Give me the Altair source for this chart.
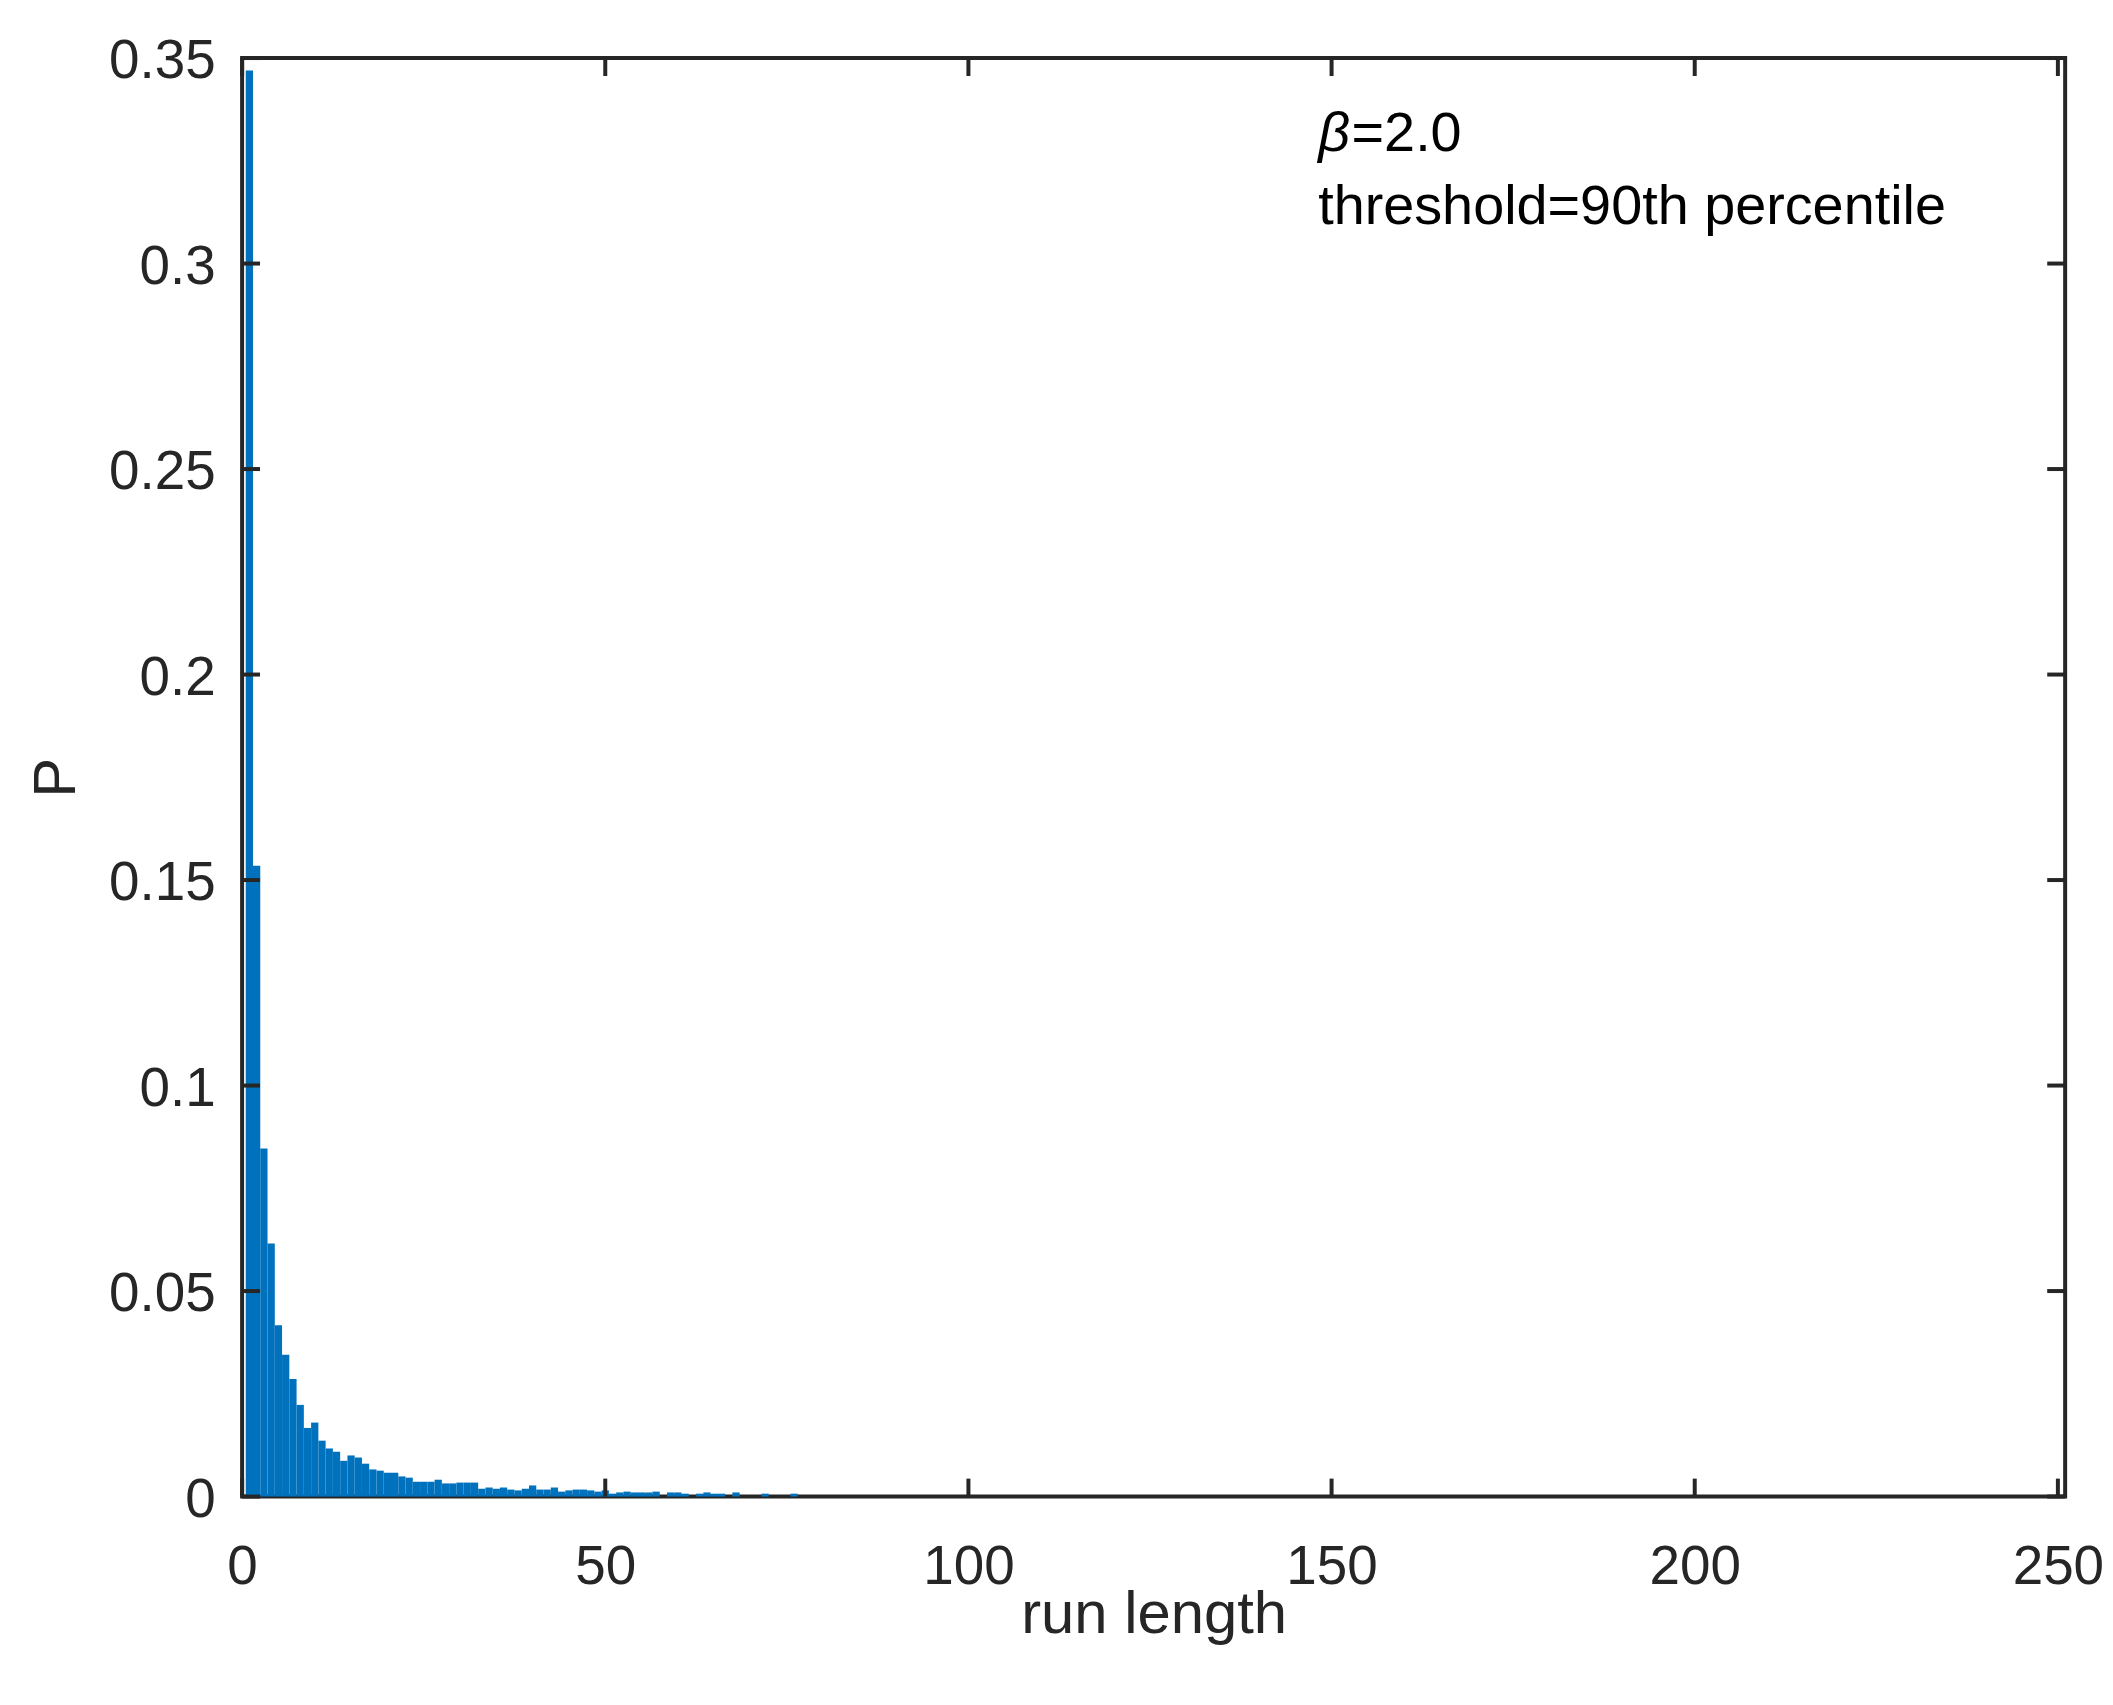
import altair as alt
import pandas as pd

# ---- data ----
run_length = list(range(1, 77))
prob = [
    0.3470, 0.1535, 0.0847, 0.0616, 0.0417, 0.0345, 0.0286, 0.0223, 0.0167, 0.0180,
    0.0136, 0.0117, 0.0109, 0.0087, 0.0100, 0.0095, 0.0080, 0.0066, 0.0063, 0.0058,
    0.0058, 0.0049, 0.0046, 0.0036, 0.0036, 0.0036, 0.0041, 0.0032, 0.0032, 0.0034,
    0.0034, 0.0034, 0.0019, 0.0022, 0.0019, 0.0022, 0.0017, 0.0015, 0.0019, 0.0027,
    0.0017, 0.0017, 0.0022, 0.0012, 0.0015, 0.0017, 0.0017, 0.0015, 0.0012, 0.0015,
    0.0007, 0.0010, 0.0012, 0.0010, 0.0010, 0.0010, 0.0012, 0.0000, 0.0010, 0.0010,
    0.0007, 0.0000, 0.0007, 0.0010, 0.0007, 0.0007, 0.0000, 0.0010, 0.0000, 0.0000,
    0.0000, 0.0007, 0.0000, 0.0000, 0.0000, 0.0007,
]
x_ticks = [0, 50, 100, 150, 200, 250]
y_ticks = [0, 0.05, 0.1, 0.15, 0.2, 0.25, 0.3, 0.35]
x_domain = [0, 251]
y_domain = [0, 0.35]

ann_beta = ["β"]
ann_beta_val = ["=2.0"]
ann_thresh = ["threshold=90th percentile"]
ann_x = [148.15, 152.75, 148.15]
ann_y = [0.3314, 0.3314, 0.3137]

W, H = 1830, 1444
TICK = 18
AX = "#262626"
FONT = "Liberation Sans"

bars_df = pd.DataFrame({
    "start": [r - 0.5 for r in run_length],
    "end": [r + 0.5 for r in run_length],
    "p": prob,
    "base": [0.0] * len(run_length),
})
xt_df = pd.DataFrame({"t": x_ticks})
yt_df = pd.DataFrame({"t": y_ticks})

xscale = alt.Scale(domain=x_domain, nice=False, zero=False)
yscale = alt.Scale(domain=y_domain, nice=False)

x_axis = alt.Axis(
    values=x_ticks, format="d", ticks=False, domain=False, grid=False,
    labelFont=FONT, labelFontSize=55, labelColor=AX, labelPadding=44,
    title="run length", titleFont=FONT, titleFontSize=60, titleColor=AX,
    titleFontWeight="normal", titleX=W / 2, titleY=118, titleBaseline="middle",
    titleAlign="center", labelFlush=False, labelOverlap=False,
)
y_axis = alt.Axis(
    values=y_ticks, format="~g", ticks=False, domain=False, grid=False,
    labelFont=FONT, labelFontSize=55, labelColor=AX, labelPadding=27, labelOffset=3,
    title="P", titleFont=FONT, titleFontSize=60, titleColor=AX,
    titleFontWeight="normal", titleX=-186, titleY=H / 2, titleAngle=270,
    titleBaseline="middle", titleAlign="center", labelFlush=False, labelOverlap=False,
)

bars = alt.Chart(bars_df).mark_bar(color="#0072BD", strokeWidth=0).encode(
    x=alt.X("start:Q", scale=xscale, axis=x_axis),
    x2="end:Q",
    y=alt.Y("p:Q", scale=yscale, axis=y_axis),
    y2="base:Q",
)

tick_style = dict(color=AX, strokeWidth=4)
xb = alt.Chart(xt_df).mark_rule(**tick_style).encode(
    x=alt.X("t:Q", scale=xscale), y=alt.value(H), y2=alt.value(H - TICK))
xtp = alt.Chart(xt_df).mark_rule(**tick_style).encode(
    x=alt.X("t:Q", scale=xscale), y=alt.value(0), y2=alt.value(TICK))
yl = alt.Chart(yt_df).mark_rule(**tick_style).encode(
    y=alt.Y("t:Q", scale=yscale), x=alt.value(0), x2=alt.value(TICK))
yr = alt.Chart(yt_df).mark_rule(**tick_style).encode(
    y=alt.Y("t:Q", scale=yscale), x=alt.value(W - TICK), x2=alt.value(W))

ann_df = pd.DataFrame({
    "x": ann_x, "y": ann_y,
    "label": ann_beta + ann_beta_val + ann_thresh,
    "italic": [True, False, False],
})
txt_it = alt.Chart(ann_df[ann_df["italic"]]).mark_text(
    align="left", baseline="middle", font=FONT, fontSize=56, fontStyle="italic", color="black"
).encode(x=alt.X("x:Q", scale=xscale), y=alt.Y("y:Q", scale=yscale), text="label:N")
txt_nm = alt.Chart(ann_df[~ann_df["italic"]]).mark_text(
    align="left", baseline="middle", font=FONT, fontSize=56, color="black"
).encode(x=alt.X("x:Q", scale=xscale), y=alt.Y("y:Q", scale=yscale), text="label:N")

chart = alt.layer(bars, xb, xtp, yl, yr, txt_it, txt_nm).properties(
    width=W, height=H,
    autosize=alt.AutoSizeParams(type="none"),
    padding={"left": 235, "top": 47, "right": 40, "bottom": 206},
    background="white",
).configure_view(stroke=AX, strokeWidth=4)

chart.save("out.html", embed_options={"renderer": "svg", "actions": False})
